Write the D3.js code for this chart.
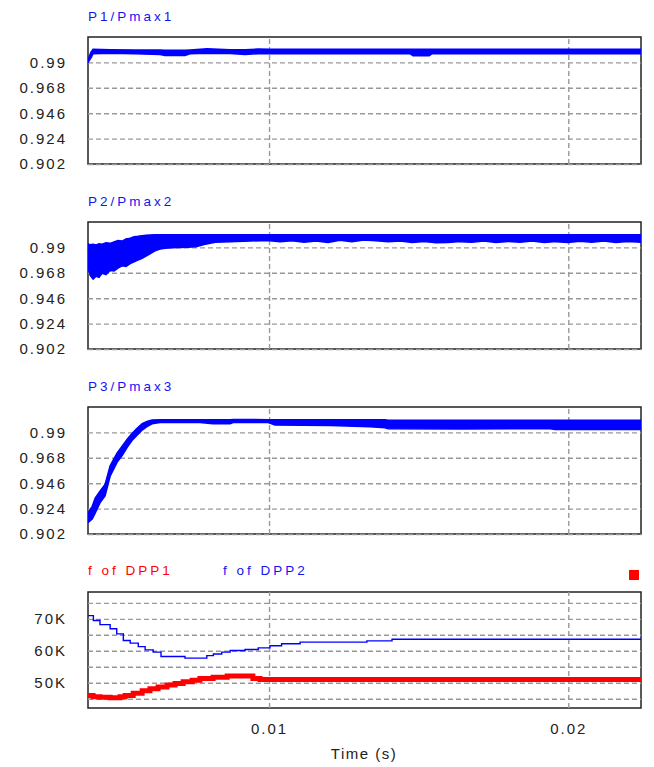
<!DOCTYPE html>
<html>
<head>
<meta charset="utf-8">
<script src="https://cdn.jsdelivr.net/npm/d3@7"></script>
<style>
body { margin: 0; background: #fff; }
svg { display: block; font-family: 'Liberation Sans', Arial, sans-serif; }
.grid line { stroke: #999; stroke-dasharray: 5,3; stroke-width: 1.4; }
.grid path { display: none; }
.labels path, .labels line { display: none; }
.labels text { font-size: 15px; fill: #222; letter-spacing: 2px; font-family: 'Liberation Sans', Arial, sans-serif; }
.title { font-size: 13.5px; letter-spacing: 3px; }
</style>
</head>
<body>
<svg></svg>
<script>
// time axis (seconds)
let timeDomain = [0.00395, 0.02243];
let timeTicks = [0.01, 0.02];

// P/Pmax panels: ticks
let pTicks = [0.902, 0.924, 0.946, 0.968, 0.99];
let pDomain = [0.902, 1.012];

// P1/Pmax1 envelope
let p1Time  = [0.00395, 0.00405, 0.00412, 0.00469, 0.00552, 0.00636, 0.00652, 0.00719, 0.00736, 0.00793, 0.00870, 0.00920, 0.00963, 0.01003, 0.01104, 0.01471, 0.01481, 0.01535, 0.01545, 0.02243];
let p1Upper = [0.9925, 0.9990, 1.0013, 1.0010, 1.0008, 1.0008, 1.0005, 1.0005, 1.0008, 1.0018, 1.0010, 1.0010, 1.0015, 1.0013, 1.0013, 1.0013, 1.0013, 1.0013, 1.0013, 1.0013];
let p1Lower = [0.9900, 0.9940, 0.9975, 0.9980, 0.9975, 0.9968, 0.9960, 0.9960, 0.9975, 0.9980, 0.9978, 0.9968, 0.9975, 0.9975, 0.9975, 0.9975, 0.9958, 0.9958, 0.9975, 0.9975];

// P2/Pmax2 envelope
let p2Time  = [0.00395, 0.00402, 0.00412, 0.00422, 0.00432, 0.00442, 0.00455, 0.00469, 0.00482, 0.00495, 0.00509, 0.00522, 0.00536, 0.00549, 0.00562, 0.00576, 0.00589, 0.00602, 0.00619, 0.00636, 0.00653, 0.00676, 0.00703, 0.00729, 0.00756, 0.00783, 0.00820, 0.00870, 0.00937, 0.00993,
               0.01037, 0.01077, 0.01117, 0.01157, 0.01197, 0.01237, 0.01277, 0.01317, 0.01357, 0.01398, 0.01438, 0.01478, 0.01518, 0.01558, 0.01598, 0.01638, 0.01678, 0.01718, 0.01758, 0.01799, 0.01839, 0.01879, 0.01919, 0.01959, 0.01999, 0.02039, 0.02079, 0.02119, 0.02159, 0.02199, 0.02243];
let p2Upper = [0.9930, 0.9924, 0.9928, 0.9922, 0.9932, 0.9928, 0.9940, 0.9935, 0.9948, 0.9960, 0.9955, 0.9972, 0.9980, 0.9992, 0.9996, 1.0002, 1.0006, 1.0008, 1.0010, 1.0010, 1.0010, 1.0010, 1.0010, 1.0010, 1.0010, 1.0010, 1.0010, 1.0010, 1.0010, 1.0010,
               1.0010, 1.0010, 1.0010, 1.0010, 1.0010, 1.0010, 1.0010, 1.0010, 1.0010, 1.0010, 1.0010, 1.0010, 1.0010, 1.0010, 1.0010, 1.0010, 1.0010, 1.0010, 1.0010, 1.0010, 1.0010, 1.0010, 1.0010, 1.0010, 1.0010, 1.0010, 1.0010, 1.0010, 1.0010, 1.0010, 1.0010];
let p2Lower = [0.9720, 0.9660, 0.9625, 0.9650, 0.9640, 0.9675, 0.9665, 0.9700, 0.9695, 0.9720, 0.9740, 0.9735, 0.9760, 0.9775, 0.9790, 0.9805, 0.9825, 0.9845, 0.9870, 0.9885, 0.9893, 0.9898, 0.9900, 0.9902, 0.9905, 0.9925, 0.9945, 0.9950, 0.9955, 0.9960,
               0.9948, 0.9958, 0.9944, 0.9956, 0.9943, 0.9962, 0.9950, 0.9964, 0.9958, 0.9948, 0.9955, 0.9943, 0.9952, 0.9941, 0.9942, 0.9950, 0.9945, 0.9956, 0.9943, 0.9952, 0.9944, 0.9955, 0.9942, 0.9950, 0.9943, 0.9953, 0.9945, 0.9955, 0.9942, 0.9951, 0.9944];

// P3/Pmax3 envelope
let p3Time  = [0.00395, 0.00409, 0.00419, 0.00435, 0.00452, 0.00469, 0.00492, 0.00509, 0.00526, 0.00542, 0.00559, 0.00576, 0.00592, 0.00609, 0.00636, 0.00769, 0.00813, 0.00870, 0.00880, 0.00997, 0.01020, 0.01204, 0.01337, 0.01388, 0.01398, 0.01638, 0.01939, 0.01956, 0.02243];
let p3Upper = [0.9200, 0.9260, 0.9330, 0.9390, 0.9450, 0.9610, 0.9720, 0.9780, 0.9840, 0.9890, 0.9935, 0.9975, 0.9995, 1.0008, 1.0010, 1.0010, 1.0010, 1.0010, 1.0012, 1.0010, 1.0010, 1.0010, 1.0010, 1.0010, 1.0005, 1.0005, 1.0005, 1.0005, 1.0005];
let p3Lower = [0.9120, 0.9150, 0.9200, 0.9290, 0.9350, 0.9520, 0.9640, 0.9700, 0.9770, 0.9830, 0.9875, 0.9920, 0.9950, 0.9975, 0.9985, 0.9985, 0.9975, 0.9975, 0.9985, 0.9985, 0.9965, 0.9960, 0.9948, 0.9940, 0.9932, 0.9930, 0.9932, 0.9925, 0.9925];

// frequency panel
let fDomain = [42100, 78400];
let fGridTicks = [45000, 50000, 55000, 60000, 65000, 70000, 75000];
let fLabelTicks = [50000, 60000, 70000];
let fLabels = ['50K', '60K', '70K'];

let dpp2Time = [0.00395, 0.00413, 0.00435, 0.00469, 0.00491, 0.00513, 0.00536, 0.00563, 0.00586, 0.00613, 0.00639, 0.00719, 0.00792, 0.00814, 0.00842, 0.00870, 0.00920, 0.00964, 0.01003, 0.01042, 0.01104, 0.01327, 0.01411, 0.02243];
let dpp2     = [71000, 69500, 68200, 66900, 65300, 63200, 62400, 61300, 60300, 59600, 58200, 57700, 58500, 59000, 59600, 60100, 60400, 60900, 61600, 62200, 62700, 63100, 63600, 63600];

let dpp1Time = [0.00395, 0.00412, 0.00435, 0.00469, 0.00502, 0.00519, 0.00546, 0.00576, 0.00602, 0.00629, 0.00659, 0.00686, 0.00713, 0.00743, 0.00769, 0.00813, 0.00860, 0.00926, 0.00946, 0.00970, 0.02243];
let dpp1     = [46000, 45600, 45500, 45300, 45600, 46000, 46700, 47500, 48100, 48700, 49300, 49800, 50300, 50800, 51300, 51700, 52100, 52100, 51300, 51000, 51000];

let svg = d3.select('svg').attr('width', 654).attr('height', 767);

let xScale = d3.scaleLinear().domain(timeDomain).range([88, 641]);

const drawFrame = (g, top, bottom) => {
    g.append('rect')
        .attr('x', 88).attr('y', top)
        .attr('width', 641 - 88).attr('height', bottom - top)
        .attr('fill', 'none')
        .attr('stroke', '#222')
        .attr('stroke-width', 1.5);
};

const drawGrid = (g, yScale, gridTicks, top, bottom) => {
    g.append('g')
        .attr('class', 'grid')
        .attr('transform', 'translate(88,0)')
        .call(d3.axisLeft(yScale).tickValues(gridTicks).tickSize(-(641 - 88)).tickFormat(''));
    g.append('g')
        .attr('class', 'grid')
        .attr('transform', `translate(0,${bottom})`)
        .call(d3.axisBottom(xScale).tickValues(timeTicks).tickSize(-(bottom - top)).tickFormat(''));
};

const drawPanel = (top, bottom, title, time, upper, lower, idx) => {
    let yScale = d3.scaleLinear().domain(pDomain).range([bottom, top]);
    let g = svg.append('g');

    drawFrame(g, top, bottom);
    drawGrid(g, yScale, pTicks, top, bottom);

    g.append('clipPath').attr('id', 'clip' + idx)
        .append('rect').attr('x', 88).attr('y', top).attr('width', 641 - 88).attr('height', bottom - top);

    let rows = time.map((t, i) => [t, upper[i], lower[i]]);
    let area = d3.area()
        .x(d => xScale(d[0]))
        .y0(d => yScale(d[2]))
        .y1(d => yScale(d[1]));

    g.append('path')
        .datum(rows)
        .attr('clip-path', `url(#clip${idx})`)
        .attr('d', area)
        .attr('fill', '#0000ff')
        .attr('stroke', '#0000ff')
        .attr('stroke-width', 1.5);

    g.append('g')
        .attr('class', 'labels')
        .attr('transform', 'translate(88,0)')
        .call(d3.axisLeft(yScale).tickValues(pTicks).tickSize(0).tickPadding(21).tickFormat(d => String(d)));

    g.append('text')
        .attr('class', 'title')
        .attr('x', 88).attr('y', top - 16)
        .attr('fill', '#1414f0')
        .text(title);
};

drawPanel(37, 164, 'P1/Pmax1', p1Time, p1Upper, p1Lower, 1);
drawPanel(222, 349, 'P2/Pmax2', p2Time, p2Upper, p2Lower, 2);
drawPanel(407, 534, 'P3/Pmax3', p3Time, p3Upper, p3Lower, 3);

// frequency panel
const drawFreq = () => {
    let top = 592, bottom = 708;
    let yScale = d3.scaleLinear().domain(fDomain).range([bottom, top]);
    let g = svg.append('g');

    drawFrame(g, top, bottom);
    drawGrid(g, yScale, fGridTicks, top, bottom);

    g.append('clipPath').attr('id', 'clip4')
        .append('rect').attr('x', 88).attr('y', top).attr('width', 641 - 88).attr('height', bottom - top);

    let line = d3.line()
        .x(d => xScale(d[0]))
        .y(d => yScale(d[1]))
        .curve(d3.curveStepAfter);

    g.append('path')
        .datum(dpp1Time.map((t, i) => [t, dpp1[i]]))
        .attr('clip-path', 'url(#clip4)')
        .attr('d', line)
        .attr('fill', 'none')
        .attr('stroke', '#ff0000')
        .attr('stroke-width', 5);

    g.append('path')
        .datum(dpp2Time.map((t, i) => [t, dpp2[i]]))
        .attr('clip-path', 'url(#clip4)')
        .attr('d', line)
        .attr('fill', 'none')
        .attr('stroke', '#0000ff')
        .attr('stroke-width', 1.4);

    g.append('g')
        .attr('class', 'labels')
        .attr('transform', 'translate(88,0)')
        .call(d3.axisLeft(yScale).tickValues(fLabelTicks).tickSize(0).tickPadding(21)
            .tickFormat((d, i) => fLabels[i]));

    g.append('g')
        .attr('class', 'labels')
        .attr('transform', `translate(0,${bottom})`)
        .call(d3.axisBottom(xScale).tickValues(timeTicks).tickSize(0).tickPadding(15).tickFormat(d => String(d)));

    g.append('text')
        .attr('class', 'title')
        .attr('x', 88).attr('y', 575)
        .attr('fill', '#ff0000')
        .text('f of DPP1');

    g.append('text')
        .attr('class', 'title')
        .attr('x', 223).attr('y', 575)
        .attr('fill', '#1414f0')
        .text('f of DPP2');

    g.append('rect')
        .attr('x', 629).attr('y', 570)
        .attr('width', 10).attr('height', 10)
        .attr('fill', '#ff0000');

    svg.append('text')
        .attr('x', 364).attr('y', 759)
        .attr('text-anchor', 'middle')
        .attr('font-size', '15px')
        .attr('letter-spacing', '1.5px')
        .attr('fill', '#222')
        .text('Time (s)');
};

drawFreq();
</script>
</body>
</html>
